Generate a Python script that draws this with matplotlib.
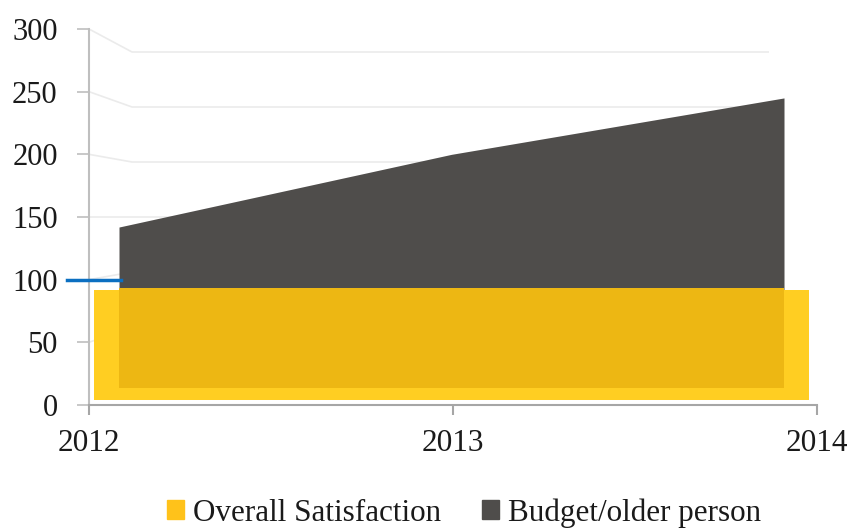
import matplotlib.pyplot as plt
from matplotlib.patches import Patch

years = [2012, 2013, 2014]
year_labels = ['2012', '2013', '2014']
satisfaction = [92, 92, 92]
budget = [142, 200, 245]
y_ticks = [0, 50, 100, 150, 200, 250, 300]

yellow_front = '#FFCE22'
yellow_back = '#EDB713'
dark = '#4F4D4B'
grid_col = '#EBEBEB'
axis_col = '#A6A6A6'
text_col = '#1A1A1A'

plt.rcParams['font.family'] = ['Liberation Serif', 'DejaVu Serif']

fig = plt.figure(figsize=(8.54, 5.29), dpi=100)
ax = fig.add_axes([89 / 854, 1 - 405 / 529, 728 / 854, 376 / 529])
ax.set_xlim(2012, 2014)
ax.set_ylim(0, 300)

# pseudo 3D: series sit a little deeper than the front plane
px_x = 2 / 728
px_y = 300 / 376


def depth_x(vals, left_px, right_px):
    lo = years[0] + left_px * px_x
    hi = years[-1] - right_px * px_x
    return [lo + (v - years[0]) / (years[-1] - years[0]) * (hi - lo) for v in vals]


# back wall gridlines
for v in y_ticks[1:]:
    yb = (23 + 1.1 * v) / 1.2533
    ax.plot([2012, 2012 + 43 * px_x, 2014 - 48 * px_x], [v, yb, yb],
            color=grid_col, lw=1.2, zorder=1, solid_capstyle='butt')

# dark series
xb = depth_x(years, 30, 33)
ax.fill_between(xb, [17 * px_y] * 3, budget, color=dark, lw=0, zorder=2)

# yellow series: front face and inner face
xf = depth_x(years, 5, 8)
ax.fill_between(xf, [5 * px_y] * 3, satisfaction, color=yellow_front, lw=0, zorder=3)
ax.fill_between(xb, [17 * px_y] * 3, [s + 1 for s in satisfaction],
                color=yellow_back, lw=0, zorder=4)

# stray blue line segment at 100
ax.plot([2012 - 22 * px_x, 2012 + 32 * px_x], [100, 100], color='#0B6FC1',
        lw=2.5, zorder=5, clip_on=False)

for s in ['top', 'right']:
    ax.spines[s].set_visible(False)
ax.spines['left'].set_color('#BFBFBF')
ax.spines['bottom'].set_color(axis_col)
for s in ['left', 'bottom']:
    ax.spines[s].set_linewidth(1.5)

ax.set_yticks(y_ticks)
ax.set_yticklabels([str(v) for v in y_ticks])
ax.tick_params(axis='y', length=8.5, width=1.2, color='#BFBFBF', pad=14,
               labelsize=22, labelcolor=text_col)
ax.set_xticks(years)
ax.set_xticklabels(year_labels)
ax.tick_params(axis='x', length=7.5, width=1.5, color=axis_col, pad=10,
               labelsize=22.5, labelcolor=text_col)

handles = [Patch(color='#FFC21A', label='Overall Satisfaction'),
           Patch(color=dark, label='Budget/older person')]
fig.legend(handles=handles, loc='center', bbox_to_anchor=(464 / 854, 1 - 513 / 529),
           ncol=2, frameon=False, fontsize=22.4, handlelength=0.55, handleheight=0.55,
           handletextpad=0.3, columnspacing=1.3, labelcolor=text_col,
           borderaxespad=0, borderpad=0)

fig.savefig('out.png', dpi=100)
